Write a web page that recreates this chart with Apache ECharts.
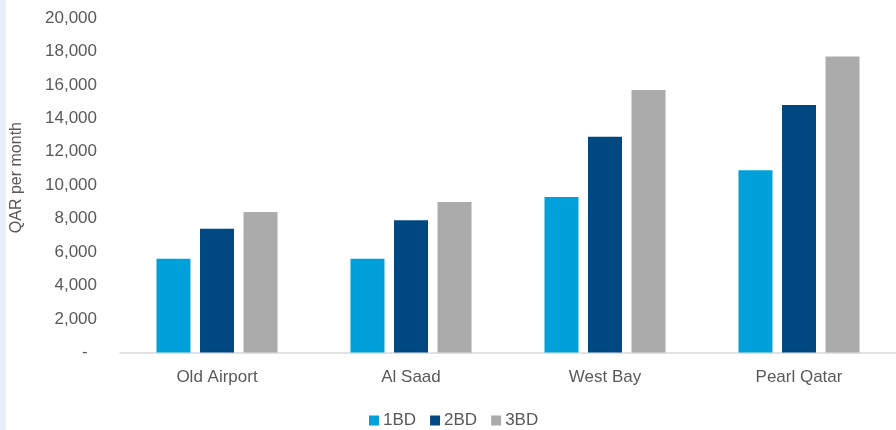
<!DOCTYPE html>
<html>
<head>
<meta charset="utf-8">
<script src="https://cdn.jsdelivr.net/npm/echarts@6/dist/echarts.min.js"></script>
<style>
  html, body { margin: 0; padding: 0; background: #ffffff; }
  #chart { width: 896px; height: 430px; }
</style>
</head>
<body>
<div id="chart"></div>
<script>
// Monthly rents by area and apartment size
const areas = ['Old Airport', 'Al Saad', 'West Bay', 'Pearl Qatar'];
const seriesNames = ['1BD', '2BD', '3BD'];
const rent1BD = [5600, 5600, 9300, 10900];
const rent2BD = [7400, 7900, 12900, 14800];
const rent3BD = [8400, 9000, 15700, 17700];
const yMin = 0;
const yMax = 20000;
const yStep = 2000;
const yTitle = 'QAR per month';

const palette = ['#00A1DB', '#004882', '#ABABAB'];
const textColor = '#595959';
const font = 'Liberation Sans, Arial, sans-serif';

function fmtTick(v) {
  if (v === 0) return '-  ';
  return v.toLocaleString('en-US');
}

const chart = echarts.init(document.getElementById('chart'), null, { renderer: 'canvas' });

const values = [rent1BD, rent2BD, rent3BD];

chart.setOption({
  animation: false,
  backgroundColor: '#ffffff',
  color: palette,
  grid: { left: 120, right: 0, top: 18, bottom: 77.5, containLabel: false },
  legend: {
    data: seriesNames,
    left: 364,
    top: 407,
    padding: 5,
    itemWidth: 10,
    itemHeight: 10,
    itemGap: 14,
    icon: 'rect',
    textStyle: { color: textColor, fontSize: 17, fontFamily: font, padding: [0, 0, 0, -1] }
  },
  graphic: [
    { type: 'rect', left: 0, top: 0, shape: { width: 6, height: 430 }, style: { fill: '#E8EEF8' }, silent: true },
    {
      type: 'text', left: 9, top: 122, rotation: Math.PI / 2,
      style: { text: yTitle, fill: textColor, font: '16px ' + font },
      silent: true
    }
  ],
  xAxis: {
    type: 'category',
    data: areas,
    axisLine: { show: true, lineStyle: { color: '#D9D9D9', width: 1.5 } },
    axisTick: { show: false },
    axisLabel: { color: textColor, fontSize: 17, fontFamily: font, margin: 16 },
    splitLine: { show: false }
  },
  yAxis: {
    type: 'value',
    min: yMin,
    max: yMax,
    interval: yStep,
    axisLine: { show: false },
    axisTick: { show: false },
    splitLine: { show: false },
    axisLabel: { color: textColor, fontSize: 17, fontFamily: font, margin: 23, formatter: fmtTick }
  },
  series: seriesNames.map((name, i) => ({
    name: name,
    type: 'bar',
    data: values[i],
    barWidth: 34,
    barGap: '28%',
    itemStyle: { color: palette[i] }
  }))
});
</script>
</body>
</html>
